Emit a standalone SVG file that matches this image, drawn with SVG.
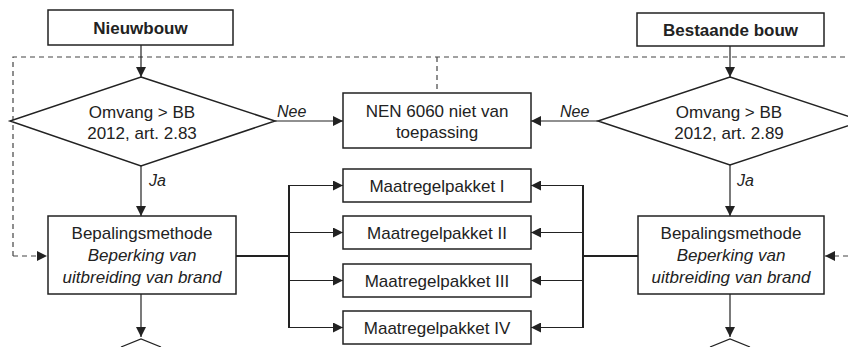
<svg xmlns="http://www.w3.org/2000/svg" width="848" height="347" viewBox="0 0 848 347">
<defs>
<marker id="ah" viewBox="0 0 10 10" refX="10" refY="5" markerWidth="10" markerHeight="10" markerUnits="userSpaceOnUse" orient="auto">
<path d="M0,0 L10,5 L0,10 z" fill="#222"/>
</marker>
</defs>
<style>
.box{fill:#fff;stroke:#222;stroke-width:1.5}
.t{font-family:"Liberation Sans",Arial,sans-serif;font-size:17px;fill:#222;text-anchor:middle}
.b{font-weight:bold}
.i{font-style:italic}
.lbl{font-family:"Liberation Sans",Arial,sans-serif;font-size:16px;font-style:italic;fill:#222}
.ln{fill:none;stroke:#222;stroke-width:1.2}
.bus{fill:none;stroke:#222;stroke-width:2}
.dash{fill:none;stroke:#444;stroke-width:1.2;stroke-dasharray:5 4}
</style>
<rect width="848" height="347" fill="#fff"/>
<g id="connectors">
<path class="dash" d="M13,256 V57 H848"/>
<path class="dash" d="M437,57 V93"/>
<path class="dash" d="M13,256 H47" marker-end="url(#ah)"/>
<path class="dash" d="M848,256 H825" marker-end="url(#ah)"/>
<path class="ln" d="M141,45 V77" marker-end="url(#ah)"/>
<path class="ln" d="M730,46 V77" marker-end="url(#ah)"/>
<path class="ln" d="M275,121 H343" marker-end="url(#ah)"/>
<path class="ln" d="M598,121 H531" marker-end="url(#ah)"/>
<path class="ln" d="M141,166 V216" marker-end="url(#ah)"/>
<path class="ln" d="M730,165 V216" marker-end="url(#ah)"/>
<path class="ln" d="M141,294 V337" marker-end="url(#ah)"/>
<path class="ln" d="M730,294 V337" marker-end="url(#ah)"/>
<path class="ln" d="M121,347 L141,339 L161,347"/>
<path class="ln" d="M710,347 L730,339 L750,347"/>
<path class="bus" d="M236,256 H289 M289,185 V328 M583,185 V328 M583,256 H638"/>
<path class="ln" d="M289,185.5 H343" marker-end="url(#ah)"/>
<path class="ln" d="M289,232.5 H343" marker-end="url(#ah)"/>
<path class="ln" d="M289,280.5 H343" marker-end="url(#ah)"/>
<path class="ln" d="M289,327.5 H343" marker-end="url(#ah)"/>
<path class="ln" d="M583,185.5 H531" marker-end="url(#ah)"/>
<path class="ln" d="M583,232.5 H531" marker-end="url(#ah)"/>
<path class="ln" d="M583,280.5 H531" marker-end="url(#ah)"/>
<path class="ln" d="M583,327.5 H531" marker-end="url(#ah)"/>
<text class="lbl" x="277" y="117">Nee</text>
<text class="lbl" x="560" y="117">Nee</text>
<text class="lbl" x="149" y="186">Ja</text>
<text class="lbl" x="737" y="186">Ja</text>
</g>
<g id="nieuwbouw">
<rect class="box" x="48" y="10" width="185" height="35"/>
<text class="t b" x="140.5" y="34">Nieuwbouw</text>
</g>
<g id="bestaande">
<rect class="box" x="637" y="13" width="187" height="33"/>
<text class="t b" x="730.5" y="36">Bestaande bouw</text>
</g>
<g id="diamond-left">
<polygon class="box" points="141,77 275,121 141,166 10,121"/>
<text class="t" x="142" y="118">Omvang &gt; BB</text>
<text class="t" x="142" y="139">2012, art. 2.83</text>
</g>
<g id="diamond-right">
<polygon class="box" points="730,77 862,121 730,165 598,121"/>
<text class="t" x="729" y="118">Omvang &gt; BB</text>
<text class="t" x="729" y="139">2012, art. 2.89</text>
</g>
<g id="nen">
<rect class="box" x="343" y="93" width="188" height="55"/>
<text class="t" x="437" y="117">NEN 6060 niet van</text>
<text class="t" x="437" y="138">toepassing</text>
</g>
<g id="bepaling-left">
<rect class="box" x="48" y="216" width="188" height="78"/>
<text class="t" x="142" y="239">Bepalingsmethode</text>
<text class="t i" x="142" y="261">Beperking van</text>
<text class="t i" x="142" y="283">uitbreiding van brand</text>
</g>
<g id="bepaling-right">
<rect class="box" x="638" y="216" width="186" height="78"/>
<text class="t" x="731" y="239">Bepalingsmethode</text>
<text class="t i" x="731" y="261">Beperking van</text>
<text class="t i" x="731" y="283">uitbreiding van brand</text>
</g>
<g id="pakket1">
<rect class="box" x="343" y="169" width="188" height="33"/>
<text class="t" x="437" y="192">Maatregelpakket I</text>
</g>
<g id="pakket2">
<rect class="box" x="343" y="216" width="188" height="33"/>
<text class="t" x="437" y="239">Maatregelpakket II</text>
</g>
<g id="pakket3">
<rect class="box" x="343" y="264" width="188" height="33"/>
<text class="t" x="437" y="287">Maatregelpakket III</text>
</g>
<g id="pakket4">
<rect class="box" x="343" y="311" width="188" height="33"/>
<text class="t" x="437" y="334">Maatregelpakket IV</text>
</g>
</svg>
